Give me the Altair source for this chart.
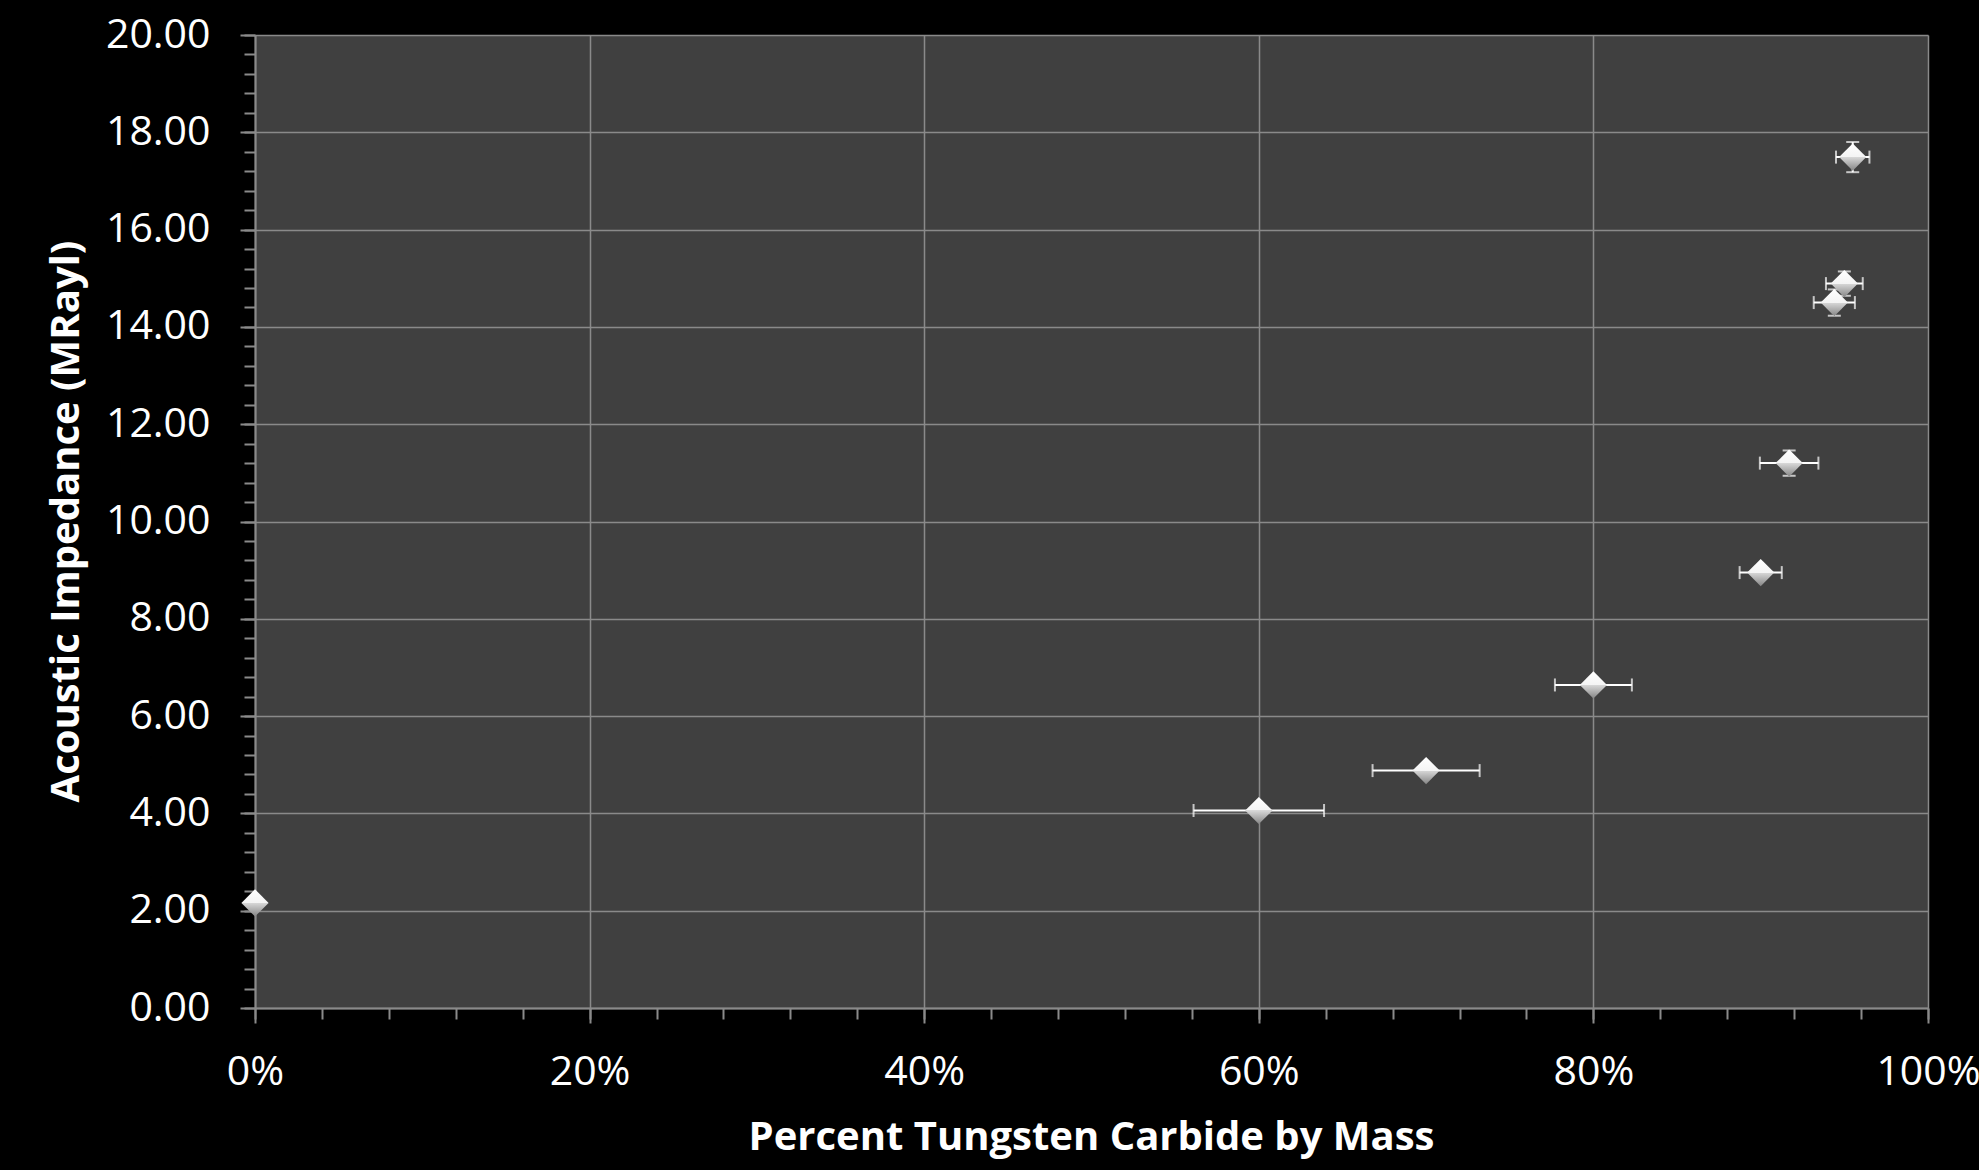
import altair as alt
import pandas as pd

# Data
wc_fraction = [0.0, 0.60, 0.70, 0.80, 0.90, 0.917, 0.944, 0.950, 0.955]
impedance = [2.16, 4.06, 4.88, 6.64, 8.95, 11.20, 14.50, 14.89, 17.49]
x_error = [0.0, 0.039, 0.032, 0.023, 0.0126, 0.0175, 0.0123, 0.011, 0.010]
y_error = [0.0, 0.0, 0.0, 0.0, 0.0, 0.26, 0.27, 0.25, 0.31]

x_major = [0.0, 0.2, 0.4, 0.6, 0.8, 1.0]
x_minor = [round(i * 0.04, 2) for i in range(26)]
y_major = [float(v) for v in range(0, 21, 2)]
y_minor = [round(i * 0.4, 1) for i in range(51)]

df = pd.DataFrame({
    "x": wc_fraction,
    "y": impedance,
    "xerr": x_error,
    "yerr": y_error,
})
df["xlo"] = df["x"] - df["xerr"]
df["xhi"] = df["x"] + df["xerr"]
df["ylo"] = df["y"] - df["yerr"]
df["yhi"] = df["y"] + df["yerr"]

FONT = "Open Sans"
GRID = "#8a8a8a"
LABEL_SIZE = 41

xscale = alt.Scale(domain=[0, 1], nice=False, zero=False)
yscale = alt.Scale(domain=[0, 20], nice=False, zero=False)

x_major_axis = alt.Axis(
    orient="bottom", values=x_major, format=".0%", grid=True,
    gridColor=GRID, gridWidth=1.5, domainColor=GRID, domainWidth=2,
    tickColor=GRID, tickWidth=2, tickSize=15, labelPadding=29,
    labelFont=FONT, labelFontSize=LABEL_SIZE, labelColor="white",
    labelOverlap=False, labelFlush=False,
    title="Percent Tungsten Carbide by Mass", titleFont=FONT,
    titleFontSize=40, titleFontWeight="bold", titleColor="white",
    titleX=836, titleY=129, titleBaseline="middle", titleAlign="center",
)
y_major_axis = alt.Axis(
    orient="left", values=y_major, format=".2f", grid=True,
    gridColor=GRID, gridWidth=1.5, domainColor=GRID, domainWidth=2,
    tickColor=GRID, tickWidth=2, tickSize=15, labelPadding=30,
    labelFont=FONT, labelFontSize=LABEL_SIZE, labelColor="white",
    labelOverlap=False, labelFlush=False,
    title="Acoustic Impedance (MRayl)", titleFont=FONT,
    titleFontSize=40, titleFontWeight="bold", titleColor="white",
    titleX=-189, titleY=486, titleAngle=-90, titleBaseline="middle",
    titleAlign="center",
)
x_minor_axis = alt.Axis(
    orient="bottom", values=x_minor, grid=False, labels=False, domain=False,
    tickColor=GRID, tickWidth=2, tickSize=11, title="",
)
y_minor_axis = alt.Axis(
    orient="left", values=y_minor, grid=False, labels=False, domain=False,
    tickColor=GRID, tickWidth=2, tickSize=11, title="",
)

base = alt.Chart(df)

xbars = base.transform_filter("datum.xerr > 0").mark_rule(
    color="white", strokeWidth=2
).encode(
    x=alt.X("xlo:Q", scale=xscale, axis=x_minor_axis),
    x2="xhi:Q",
    y=alt.Y("y:Q", scale=yscale, axis=y_minor_axis),
)

xcaps = base.transform_filter("datum.xerr > 0").transform_fold(
    ["xlo", "xhi"], as_=["end", "xv"]
).mark_tick(color="white", thickness=2, size=13, orient="vertical").encode(
    x=alt.X("xv:Q", scale=xscale, axis=None),
    y=alt.Y("y:Q", scale=yscale, axis=None),
)

ybars = base.transform_filter("datum.yerr > 0").mark_rule(
    color="white", strokeWidth=2
).encode(
    x=alt.X("x:Q", scale=xscale, axis=None),
    y=alt.Y("ylo:Q", scale=yscale, axis=None),
    y2="yhi:Q",
)

ycaps = base.transform_filter("datum.yerr > 0").transform_fold(
    ["ylo", "yhi"], as_=["end", "yv"]
).mark_tick(color="white", thickness=2, size=13, orient="horizontal").encode(
    x=alt.X("x:Q", scale=xscale, axis=None),
    y=alt.Y("yv:Q", scale=yscale, axis=None),
)

gradient = alt.LinearGradient(
    gradient="linear", x1=0, y1=0, x2=0, y2=1,
    stops=[
        alt.GradientStop(offset=0.0, color="#ffffff"),
        alt.GradientStop(offset=0.5, color="#f4f4f4"),
        alt.GradientStop(offset=0.5, color="#d8d8d8"),
        alt.GradientStop(offset=1.0, color="#858585"),
    ],
)

points = base.mark_point(
    shape="diamond", filled=True, size=740, fill=gradient, opacity=1,
    strokeOpacity=0,
).encode(
    x=alt.X("x:Q", scale=xscale, axis=x_major_axis),
    y=alt.Y("y:Q", scale=yscale, axis=y_major_axis),
)

chart = alt.layer(xbars, xcaps, ybars, ycaps, points).resolve_axis(
    x="independent", y="independent"
).properties(
    width=1673,
    height=973,
    padding={"left": 255, "top": 35, "right": 51, "bottom": 162},
    autosize=alt.AutoSizeParams(type="none"),
    background="black",
).configure_view(
    fill="#404040", stroke="transparent"
)

chart.save("out.html", embed_options={"renderer": "svg", "actions": False})
